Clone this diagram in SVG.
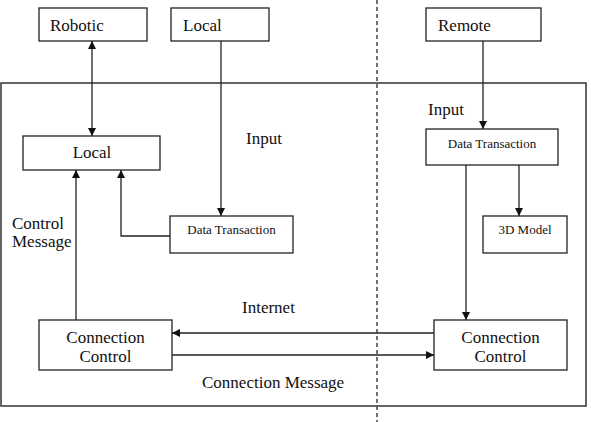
<svg xmlns="http://www.w3.org/2000/svg" width="591" height="422" viewBox="0 0 591 422" font-family="'Liberation Serif', 'Times New Roman', serif">
<style>
  .box{fill:#fff;stroke:#222;stroke-width:1.3}
  .frame{fill:none;stroke:#333;stroke-width:1.5}
  .ln{fill:none;stroke:#222;stroke-width:1.3}
  text{font-family:'Liberation Serif','Times New Roman',serif;fill:#111}
  .t{font-size:17px}
  .s{font-size:13px}
  .m{text-anchor:middle}
</style>
<defs>
  <marker id="ah" viewBox="0 0 10 10" refX="10" refY="5" markerWidth="8" markerHeight="8" markerUnits="userSpaceOnUse" orient="auto-start-reverse">
    <path d="M0,0 L10,5 L0,10 Z" fill="#111"/>
  </marker>
</defs>
<rect width="591" height="422" fill="#fff"/>
<rect class="frame" x="1" y="83" width="585" height="323"/>
<line x1="377" y1="0" x2="377" y2="422" stroke="#444" stroke-width="1.5" stroke-dasharray="4,3"/>

<g id="connectors">
  <line class="ln" x1="92" y1="136" x2="92" y2="41" marker-start="url(#ah)" marker-end="url(#ah)"/>
  <line class="ln" x1="221" y1="41" x2="221" y2="216" marker-end="url(#ah)"/>
  <polyline class="ln" points="170,236 121,236 121,170" marker-end="url(#ah)"/>
  <line class="ln" x1="76" y1="320" x2="76" y2="170" marker-end="url(#ah)"/>
  <line class="ln" x1="483" y1="41" x2="483" y2="129" marker-end="url(#ah)"/>
  <line class="ln" x1="519" y1="165" x2="519" y2="216" marker-end="url(#ah)"/>
  <line class="ln" x1="466" y1="165" x2="466" y2="320" marker-end="url(#ah)"/>
  <line class="ln" x1="434" y1="333" x2="172" y2="333" marker-end="url(#ah)"/>
  <line class="ln" x1="172" y1="355" x2="434" y2="355" marker-end="url(#ah)"/>
</g>

<g id="robotic">
  <rect class="box" x="39" y="8" width="108" height="33"/>
  <text class="t" x="50" y="31">Robotic</text>
</g>
<g id="local-top">
  <rect class="box" x="171" y="8" width="98" height="33"/>
  <text class="t" x="183" y="31">Local</text>
</g>
<g id="remote">
  <rect class="box" x="426" y="8" width="115" height="33"/>
  <text class="t" x="438" y="31">Remote</text>
</g>
<g id="local">
  <rect class="box" x="23" y="136" width="137" height="34"/>
  <text class="t m" x="92" y="158">Local</text>
</g>
<g id="data-transaction-left">
  <rect class="box" x="170" y="216" width="123" height="37"/>
  <text class="s m" x="231.5" y="234">Data Transaction</text>
</g>
<g id="data-transaction-right">
  <rect class="box" x="426" y="129" width="132" height="36"/>
  <text class="s m" x="492" y="148">Data Transaction</text>
</g>
<g id="model-3d">
  <rect class="box" x="483" y="216" width="84" height="37"/>
  <text class="s m" x="525" y="234">3D Model</text>
</g>
<g id="connection-control-left">
  <rect class="box" x="39" y="320" width="133" height="50"/>
  <text class="t m" x="105.5" y="343">Connection</text>
  <text class="t m" x="105.5" y="362">Control</text>
</g>
<g id="connection-control-right">
  <rect class="box" x="434" y="320" width="133" height="50"/>
  <text class="t m" x="500.5" y="343">Connection</text>
  <text class="t m" x="500.5" y="362">Control</text>
</g>
<g id="labels">
  <text class="t" x="246" y="144">Input</text>
  <text class="t" x="428" y="115">Input</text>
  <text class="t" x="12" y="229">Control</text>
  <text class="t" x="12" y="247">Message</text>
  <text class="t" x="242" y="313">Internet</text>
  <text class="t" x="202" y="388">Connection Message</text>
</g>
</svg>
